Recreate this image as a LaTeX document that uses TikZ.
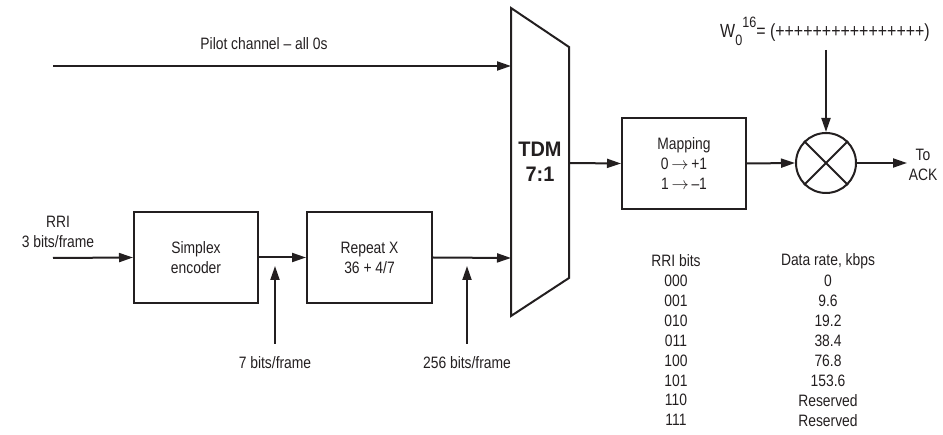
\documentclass[tikz,border=0pt]{standalone}
\usepackage{fontspec}
\setmainfont{Liberation Sans}[FakeStretch=0.84]
\newfontfamily\tdmfont{Liberation Sans Bold}[FakeStretch=0.95]
\usetikzlibrary{arrows.meta}
\definecolor{ink}{HTML}{231F20}
\begin{document}
\begin{tikzpicture}[x=1pt,y=-1pt,
  every node/.style={text=ink,font=\fontsize{16.5}{20}\selectfont},
  blockbox/.style={draw=ink,line width=2pt,minimum width=124pt,minimum height=91pt,align=center,inner sep=0pt},
  arr/.style={draw=ink,line width=2pt,-{Triangle[length=14pt,width=9pt]}},
  lbl/.style={align=center,inner sep=0pt},
  cell/.style={inner sep=0pt,anchor=center}]
\useasboundingbox (0,0) rectangle (943,435);
% TDM trapezoid
\coordinate (tlt) at (511,8);
\coordinate (trt) at (569,47);
\coordinate (trb) at (569,278);
\coordinate (tlb) at (511,316);
\draw[ink,line width=2pt,line join=miter] (tlt) -- (trt) -- (trb) -- (tlb) -- cycle;
\node[lbl,font=\fontsize{21}{25}\tdmfont] (tdm) at (540,162) {TDM\\7:1};
\coordinate (tdmin1) at (511,66);
\coordinate (tdmin2) at (511,258);
\coordinate (tdmout) at (569,163);
% pilot
\coordinate (pilotstart) at (53,66);
\node[lbl] (pilot) at (264,44) {Pilot channel -- all 0s};
\draw[arr] (pilotstart) -- (tdmin1);
% RRI input
\node[lbl] (rri) at (58,232) {RRI\\3 bits/frame};
\coordinate (rristart) at (53,258);
\node[blockbox] (simplex) at (196,257.5) {Simplex\\encoder};
\node[blockbox,minimum width=125pt] (repeat) at (369.5,257.5) {Repeat X\\36 + 4/7};
\draw[arr] (rristart) -- (simplex.west);
\draw[arr] (simplex.east) -- (repeat.west);
\draw[arr] (repeat.east) -- (tdmin2);
% bit-rate labels
\node[lbl] (b7) at (275,363) {7 bits/frame};
\node[lbl] (b256) at (467,363) {256 bits/frame};
\coordinate (b7s) at (275,344);
\coordinate (b7e) at (275,266);
\coordinate (b256s) at (467,344);
\coordinate (b256e) at (467,266);
\draw[arr] (b7s) -- (b7e);
\draw[arr] (b256s) -- (b256e);
% mapping
\node[blockbox] (map) at (684,163.5) {Mapping\\0\,$\rightarrow$\,+1\\1\,$\rightarrow$\,--1};
\draw[arr] (tdmout) -- (map.west);
% multiplier
\node[draw=ink,line width=2pt,circle,minimum size=60pt,inner sep=0pt] (mult) at (826,163) {};
\draw[ink,line width=2pt] (mult.north west) -- (mult.south east) (mult.north east) -- (mult.south west);
\draw[arr] (map.east) -- (mult.west);
\node[inner sep=0pt,anchor=base west,font=\fontsize{19}{22}\selectfont] (walsh) at (720,38) {W\raisebox{-8pt}{\fontsize{15}{15}\selectfont 0}\raisebox{10pt}{\fontsize{15}{15}\selectfont 16}= (++++++++++++++++)};
\coordinate (walshs) at (826,50);
\draw[arr] (walshs) -- (mult.north);
\node[lbl] (ack) at (923,165) {To\\ACK};
\coordinate (acke) at (907,163);
\draw[arr] (mult.east) -- (acke);
% table
\node[cell] (h1) at (676,261) {RRI bits};
\node[cell] (h2) at (828,261) {Data rate, kbps};
\foreach \i/\a/\b in {1/000/0,2/001/9.6,3/010/19.2,4/011/38.4,5/100/76.8,6/101/153.6,7/110/Reserved,8/111/Reserved}{
  \node[cell] (r\i) at (676,261+\i*19.9) {\a};
  \node[cell] (d\i) at (828,261+\i*19.9) {\b};
}
\end{tikzpicture}
\end{document}
